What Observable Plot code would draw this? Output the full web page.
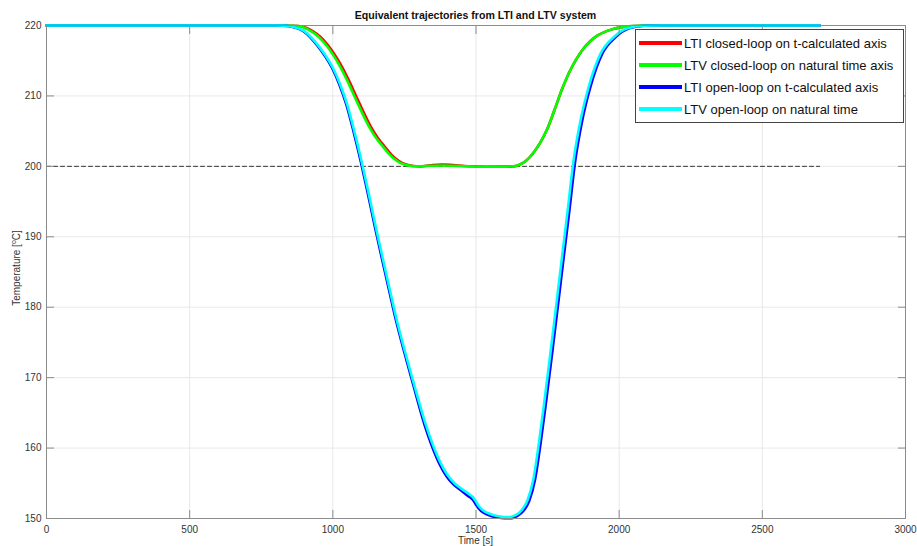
<!DOCTYPE html>
<html>
<head>
<meta charset="utf-8">
<script src="https://cdn.jsdelivr.net/npm/d3@7"></script>
<script src="https://cdn.jsdelivr.net/npm/@observablehq/plot@0.6"></script>
<style>
  body { margin: 0; background: #fff; font-family: "Liberation Sans", Arial, sans-serif; }
  #wrap { position: relative; width: 917px; height: 546px; }
  .legend { position: absolute; left: 635px; top: 29px; width: 269px; height: 94px;
            box-sizing: border-box; border: 1px solid #444; background: #fff; padding-top: 2px; }
  .legend .row { height: 22px; display: flex; align-items: center; }
  .legend .sw { width: 43px; height: 4px; margin-left: 3px; margin-right: 2px; }
  .legend .lbl { font-size: 13px; color: #111; white-space: nowrap; }
</style>
</head>
<body>
<div id="wrap"></div>
<script>
// Series labels and colours
const seriesNames = [
  "LTI closed-loop on t-calculated axis",
  "LTV closed-loop on natural time axis",
  "LTI open-loop on t-calculated axis",
  "LTV open-loop on natural time"
];
const seriesColors = ["#ff0000", "#00ff00", "#0000ff", "#00ffff"];

// Axis ticks
const xTicks = [0, 500, 1000, 1500, 2000, 2500, 3000];
const yTicks = [150, 160, 170, 180, 190, 200, 210, 220];

// Set-point reference (dashed)
const refTime = [0, 2700];
const refTemp = [200, 200];

// LTI closed-loop
const ltiClosedT = [0, 800, 856, 881, 906, 931, 956, 981, 1006, 1031, 1056, 1081, 1106, 1131, 1156, 1181, 1206, 1231, 1256, 1281, 1306, 1340, 1380, 1420, 1460, 1500, 1550, 1600, 1630, 1650, 1675, 1700, 1725, 1750, 1775, 1800, 1825, 1850, 1875, 1900, 1925, 1950, 1975, 2000, 2050, 2100, 2700];
const ltiClosedV = [220, 220, 219.97, 219.93, 219.68, 219.18, 218.4, 217.3, 215.9, 214.2, 212.2, 210.0, 207.8, 205.75, 204.1, 202.8, 201.6, 200.75, 200.25, 200.05, 200.0, 200.15, 200.27, 200.2, 200.06, 200.0, 199.95, 199.96, 200.0, 200.2, 200.8, 201.9, 203.4, 205.4, 208.1, 210.9, 213.3, 215.2, 216.7, 217.8, 218.6, 219.1, 219.45, 219.7, 219.93, 220, 220];

// LTV closed-loop
const ltvClosedT = [0, 800, 850, 875, 900, 925, 950, 975, 1000, 1025, 1050, 1075, 1100, 1125, 1150, 1175, 1200, 1225, 1250, 1275, 1300, 1340, 1380, 1420, 1460, 1500, 1550, 1600, 1630, 1650, 1675, 1700, 1725, 1750, 1775, 1800, 1825, 1850, 1875, 1900, 1925, 1950, 1975, 2000, 2050, 2100, 2700];
const ltvClosedV = [220, 220, 219.97, 219.93, 219.68, 219.18, 218.4, 217.3, 215.9, 214.2, 212.2, 210.0, 207.8, 205.75, 204.1, 202.8, 201.6, 200.75, 200.25, 200.05, 200.0, 200.08, 200.12, 200.08, 200.02, 199.98, 199.94, 199.96, 200.0, 200.2, 200.8, 201.9, 203.4, 205.4, 208.1, 210.9, 213.3, 215.2, 216.7, 217.8, 218.6, 219.1, 219.45, 219.7, 219.93, 220, 220];

// LTI open-loop
const ltiOpenT = [0, 800, 822, 847, 872, 897, 922, 947, 972, 997, 1022, 1047, 1072, 1097, 1122, 1147, 1172, 1197, 1222, 1247, 1272, 1297, 1322, 1347, 1372, 1397, 1422, 1447, 1472, 1488, 1498, 1510, 1525, 1550, 1575, 1600, 1625, 1646, 1666, 1686, 1706, 1726, 1746, 1766, 1786, 1806, 1826, 1846, 1871, 1899, 1941, 1986, 2035, 2090, 2150, 2700];
const ltiOpenV = [220, 220, 219.98, 219.9, 219.65, 219.2, 218.3, 217.1, 215.7, 214.0, 211.7, 208.8, 205.0, 200.8, 196.2, 191.4, 186.8, 182.3, 177.9, 174.0, 170.3, 166.6, 163.1, 160.2, 157.8, 156.0, 154.8, 154.0, 153.2, 152.7, 152.1, 151.4, 150.85, 150.4, 150.15, 150.05, 150.05, 150.4, 151.1, 152.5, 155.5, 160.8, 167.0, 173.5, 180.2, 187.0, 193.7, 200.6, 206.5, 211.2, 216.0, 218.3, 219.6, 219.97, 220, 220];

// LTV open-loop
const ltvOpenT = [0, 800, 825, 850, 875, 900, 925, 950, 975, 1000, 1025, 1050, 1075, 1100, 1125, 1150, 1175, 1200, 1225, 1250, 1275, 1300, 1325, 1350, 1375, 1400, 1425, 1450, 1475, 1490, 1500, 1510, 1525, 1550, 1575, 1600, 1620, 1640, 1660, 1680, 1700, 1720, 1740, 1760, 1780, 1800, 1820, 1840, 1865, 1893, 1935, 1980, 2029, 2085, 2150, 2700];
const ltvOpenV = [220, 220, 219.98, 219.9, 219.65, 219.2, 218.3, 217.1, 215.7, 214.0, 211.7, 208.8, 205.0, 200.8, 196.2, 191.4, 186.8, 182.3, 177.9, 174.0, 170.3, 166.7, 163.3, 160.4, 158.0, 156.2, 155.0, 154.2, 153.5, 153.0, 152.4, 151.75, 151.15, 150.65, 150.35, 150.22, 150.22, 150.5, 151.2, 152.6, 155.5, 160.8, 167.0, 173.5, 180.2, 187.0, 193.7, 200.6, 206.5, 211.2, 216.0, 218.3, 219.6, 219.97, 220, 220];

// Long-format table for the line mark
const seriesData = [
  [ltiClosedT, ltiClosedV],
  [ltvClosedT, ltvClosedV],
  [ltiOpenT, ltiOpenV],
  [ltvOpenT, ltvOpenV]
];
const rows = seriesData.flatMap(([ts, vs], i) =>
  ts.map((t, j) => ({series: seriesNames[i], t, v: vs[j]})));
const refRows = refTime.map((t, j) => ({t, v: refTemp[j]}));

const axisGray = "#8c8c8c";
const gridGray = "#e8e8e8";
const blank = () => "";
const plain = d3.format("d");

const chart = Plot.plot({
  width: 917,
  height: 546,
  marginLeft: 46,
  marginRight: 12,
  marginTop: 25,
  marginBottom: 28,
  style: {fontFamily: "'Liberation Sans', Arial, sans-serif", fontSize: "10px", color: "#333", background: "#fff"},
  x: {domain: [0, 3000], label: null},
  y: {domain: [150, 220], label: null},
  color: {domain: seriesNames, range: seriesColors},
  marks: [
    Plot.gridX(xTicks, {stroke: gridGray, strokeOpacity: 1}),
    Plot.gridY(yTicks, {stroke: gridGray, strokeOpacity: 1}),
    Plot.line(refRows, {x: "t", y: "v", stroke: "#333", strokeWidth: 1, strokeDasharray: "4,3"}),
    Plot.line(rows, {x: "t", y: "v", z: "series", stroke: "series", strokeWidth: 2.6, curve: "monotone-x"}),
    Plot.frame({stroke: axisGray}),
    // inward tick marks on all four sides
    Plot.axisX(xTicks, {anchor: "bottom", tickSize: -8, tickFormat: blank, stroke: axisGray, label: null}),
    Plot.axisX(xTicks, {anchor: "top", tickSize: -8, tickFormat: blank, stroke: axisGray, label: null}),
    Plot.axisY(yTicks, {anchor: "left", tickSize: -8, tickFormat: blank, stroke: axisGray, label: null}),
    Plot.axisY(yTicks, {anchor: "right", tickSize: -8, tickFormat: blank, stroke: axisGray, label: null}),
    // tick labels
    Plot.axisX(xTicks, {anchor: "bottom", tickSize: 0, tickPadding: 7, tickFormat: plain, fill: "#333", label: null}),
    Plot.axisY(yTicks, {anchor: "left", tickSize: 0, tickPadding: 5, tickFormat: plain, fill: "#333", label: null})
  ]
});

const svg = d3.select(chart);
svg.append("text")
  .attr("x", 475.5).attr("y", 19)
  .attr("text-anchor", "middle")
  .attr("font-weight", "bold").attr("font-size", "10.6px").attr("fill", "#111")
  .text("Equivalent trajectories from LTI and LTV system");
svg.append("text")
  .attr("x", 475.5).attr("y", 544)
  .attr("text-anchor", "middle").attr("font-size", "10px").attr("fill", "#333")
  .text("Time [s]");
const yl = svg.append("text")
  .attr("transform", "translate(20,268) rotate(-90)")
  .attr("text-anchor", "middle").attr("font-size", "10px").attr("fill", "#333");
yl.append("tspan").text("Temperature [");
yl.append("tspan").attr("dy", "-4").attr("font-size", "7px").text("o");
yl.append("tspan").attr("dy", "4").text("C]");

const wrap = document.getElementById("wrap");
wrap.appendChild(chart);

// Legend box
const legend = d3.select(wrap).append("div").attr("class", "legend");
seriesNames.forEach((name, i) => {
  const row = legend.append("div").attr("class", "row");
  row.append("div").attr("class", "sw").style("background", seriesColors[i]);
  row.append("div").attr("class", "lbl").text(name);
});
</script>
</body>
</html>
